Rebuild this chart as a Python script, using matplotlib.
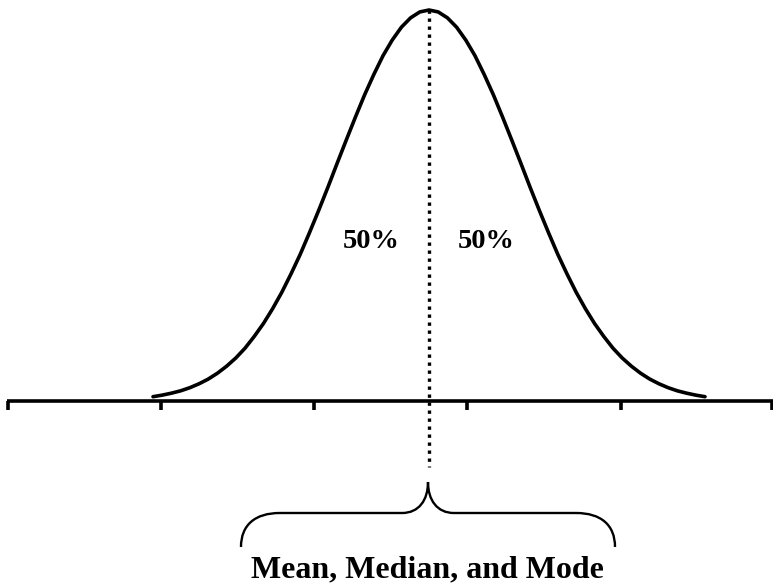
import matplotlib
matplotlib.use('Agg')
import matplotlib.pyplot as plt
from matplotlib.path import Path
from matplotlib.patches import PathPatch

# curve: z (in sd units) vs height relative to the peak
curve_z = [-3.0, -2.9, -2.8, -2.7, -2.6, -2.5, -2.4, -2.3, -2.2, -2.1, -2.0,
           -1.9, -1.8, -1.7, -1.6, -1.5, -1.4, -1.3, -1.2, -1.1, -1.0,
           -0.9, -0.8, -0.7, -0.6, -0.5, -0.4, -0.3, -0.2, -0.1, 0.0,
           0.1, 0.2, 0.3, 0.4, 0.5, 0.6, 0.7, 0.8, 0.9, 1.0,
           1.1, 1.2, 1.3, 1.4, 1.5, 1.6, 1.7, 1.8, 1.9, 2.0,
           2.1, 2.2, 2.3, 2.4, 2.5, 2.6, 2.7, 2.8, 2.9, 3.0]
curve_h = [0.011, 0.015, 0.020, 0.026, 0.034, 0.044, 0.056, 0.071, 0.089,
           0.110, 0.135, 0.165, 0.198, 0.236, 0.278, 0.325, 0.375, 0.430,
           0.487, 0.546, 0.607, 0.667, 0.726, 0.783, 0.835, 0.883, 0.923,
           0.956, 0.980, 0.995, 1.000,
           0.995, 0.980, 0.956, 0.923, 0.883, 0.835, 0.783, 0.726, 0.667,
           0.607, 0.546, 0.487, 0.430, 0.375, 0.325, 0.278, 0.236, 0.198,
           0.165, 0.135, 0.110, 0.089, 0.071, 0.056, 0.044, 0.034, 0.026,
           0.020, 0.015, 0.011]
tick_z = [-4.58, -2.91, -1.25, 0.41, 2.09, 3.73]
center_z = 0.0
half_labels = ['50%', '50%']
caption = 'Mean, Median, and Mode'

W, H = 773, 583
fig = plt.figure(figsize=(W / 100, H / 100), dpi=100)
ax = fig.add_axes([0, 0, 1, 1])
ax.set_axis_off()

# pixel frame -> data frame (peak at x=429px, baseline at y=401px)
X0, Y0, SX, SY = 429.0, 401.0, 92.0, 391.0
def px(x, y):
    return ((x - X0) / SX, (Y0 - y) / SY)

ax.set_xlim(px(0, 0)[0], px(W, 0)[0])
ax.set_ylim(px(0, H)[1], px(0, 0)[1])

lw = 2.6
# baseline and ticks
ax.plot([px(7, 0)[0], px(773, 0)[0]], [0, 0], color='black', lw=lw,
        solid_capstyle='butt')
tick_len = px(0, 410)[1]
for t in tick_z:
    ax.plot([t, t], [0, tick_len], color='black', lw=lw, solid_capstyle='butt')

# normal curve
ax.plot(curve_z, curve_h, color='black', lw=lw, solid_capstyle='round',
        solid_joinstyle='round')

# dotted centre line
ax.plot([center_z, center_z], [px(0, 10)[1], px(0, 467)[1]], color='black',
        lw=2.4, linestyle=(0, (1, 1.4)), dash_capstyle='butt')

# labels
font = dict(family='Liberation Serif', weight='bold', color='black')
ax.text(*px(371, 248), half_labels[0], ha='center', va='baseline',
        fontsize=20.5, **font)
ax.text(*px(486, 248), half_labels[1], ha='center', va='baseline',
        fontsize=20.5, **font)
ax.text(*px(427, 577), caption, ha='center', va='baseline', fontsize=23,
        **font)

# curly brace
pts = [(241, 547), (241, 525), (255, 513), (280, 513),
       (402, 513),
       (419, 513), (428, 500), (428, 482),
       (428, 500), (437, 513), (454, 513),
       (576, 513),
       (601, 513), (615, 525), (615, 547)]
codes = [Path.MOVETO, Path.CURVE4, Path.CURVE4, Path.CURVE4,
         Path.LINETO,
         Path.CURVE4, Path.CURVE4, Path.CURVE4,
         Path.CURVE4, Path.CURVE4, Path.CURVE4,
         Path.LINETO,
         Path.CURVE4, Path.CURVE4, Path.CURVE4]
brace = Path([px(*p) for p in pts], codes)
ax.add_patch(PathPatch(brace, facecolor='none', edgecolor='black', lw=1.7))

fig.savefig('out.png', dpi=100)
